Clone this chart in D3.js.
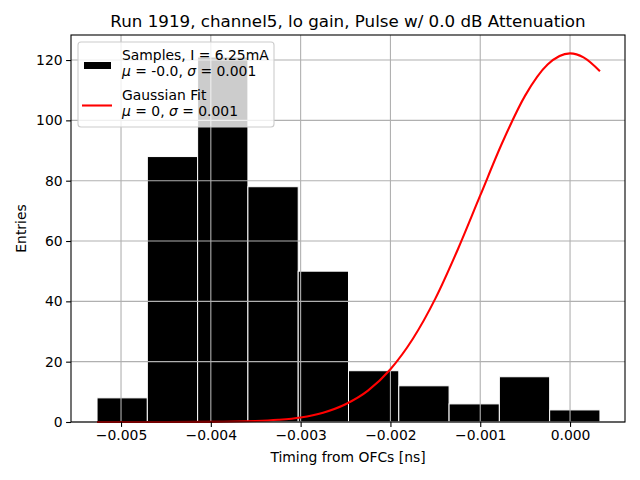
<!DOCTYPE html>
<html>
<head>
<meta charset="utf-8">
<script src="https://cdn.jsdelivr.net/npm/d3@7"></script>
<style>
  body { margin: 0; background: #fff; }
  text { font-family: "DejaVu Sans", sans-serif; }
</style>
</head>
<body>
<div id="chart"></div>
<script>
// histogram bins (left edge, right edge) and counts
const binEdges = [-0.005267, -0.004707, -0.004147, -0.003587, -0.003027, -0.002467,
                  -0.001907, -0.001347, -0.000787, -0.000227, 0.000333];
const counts = [8, 88, 121, 78, 50, 17, 12, 6, 15, 4];

// gaussian fit curve
const fitX = [-0.005267, -0.0045, -0.004, -0.0035, -0.00325, -0.003, -0.00275, -0.0025,
              -0.00225, -0.002, -0.00175, -0.0015, -0.00125, -0.001, -0.00075, -0.0005,
              -0.00025, 0, 0.00015, 0.000333];
const fitY = [0, 0.01, 0.05, 0.32, 0.72, 1.5, 3.1, 5.9, 10.4, 17.5, 27.6, 40.9, 57.2,
              75.1, 92.9, 108.2, 118.5, 122.2, 120.9, 116.3];

const xTicks = [-0.005, -0.004, -0.003, -0.002, -0.001, 0.000];
const yTicks = [0, 20, 40, 60, 80, 100, 120];

const W = 640, H = 480;
const margin = { top: 35, right: 15, bottom: 58, left: 71 };
const width = W - margin.left - margin.right;
const height = H - margin.top - margin.bottom;

const svg = d3.select("#chart").append("svg")
  .attr("width", W).attr("height", H);

const g = svg.append("g").attr("transform", `translate(${margin.left},${margin.top})`);

const x = d3.scaleLinear().domain([-0.005557, 0.000612]).range([0, width]);
const y = d3.scaleLinear().domain([0, 128.3]).range([height, 0]);

const fmtTick = v => (v < 0 ? "\u2212" : "") + Math.abs(v).toFixed(3);

// bars
const bins = counts.map((c, i) => ({ x0: binEdges[i], x1: binEdges[i + 1], c }));
g.selectAll("rect.bar").data(bins).enter().append("rect")
  .attr("class", "bar")
  .attr("x", d => x(d.x0))
  .attr("width", d => x(d.x1) - x(d.x0))
  .attr("y", d => y(d.c))
  .attr("height", d => y(0) - y(d.c))
  .attr("fill", "#000")
  .attr("stroke", "#fff")
  .attr("stroke-width", 1);

// grid (matplotlib draws it above the patches)
g.append("g").selectAll("line").data(xTicks).enter().append("line")
  .attr("x1", d => x(d)).attr("x2", d => x(d))
  .attr("y1", 0).attr("y2", height)
  .attr("stroke", "#b0b0b0").attr("stroke-width", 1.1);
g.append("g").selectAll("line").data(yTicks).enter().append("line")
  .attr("x1", 0).attr("x2", width)
  .attr("y1", d => y(d)).attr("y2", d => y(d))
  .attr("stroke", "#b0b0b0").attr("stroke-width", 1.1);

// fit curve
const fit = fitX.map((v, i) => [v, fitY[i]]);
g.append("path")
  .datum(fit)
  .attr("fill", "none")
  .attr("stroke", "red")
  .attr("stroke-width", 2.08)
  .attr("d", d3.line().x(d => x(d[0])).y(d => y(d[1])).curve(d3.curveMonotoneX));

// axes
const xAxis = g.append("g")
  .attr("transform", `translate(0,${height})`)
  .call(d3.axisBottom(x).tickValues(xTicks).tickFormat(fmtTick).tickSizeOuter(0).tickSize(4.9).tickPadding(3.5));
const yAxis = g.append("g")
  .call(d3.axisLeft(y).tickValues(yTicks).tickSizeOuter(0).tickSize(4.9).tickPadding(3.5));
[xAxis, yAxis].forEach(a => {
  a.selectAll("text").attr("font-size", "13.9px").attr("fill", "#000")
    .attr("font-family", "DejaVu Sans, sans-serif");
  a.selectAll("line").attr("stroke", "#000").attr("stroke-width", 1.1);
  a.select(".domain").remove();
});

// frame
g.append("rect")
  .attr("x", 0).attr("y", 0).attr("width", width).attr("height", height)
  .attr("fill", "none").attr("stroke", "#000").attr("stroke-width", 1.1);

// labels
svg.append("text")
  .attr("x", margin.left + width / 2).attr("y", 27)
  .attr("text-anchor", "middle").attr("font-size", "16.7px")
  .text("Run 1919, channel5, lo gain, Pulse w/ 0.0 dB Attenuation");
svg.append("text")
  .attr("x", margin.left + width / 2).attr("y", 462)
  .attr("text-anchor", "middle").attr("font-size", "13.9px")
  .text("Timing from OFCs [ns]");
svg.append("text")
  .attr("transform", `translate(26,${margin.top + height / 2}) rotate(-90)`)
  .attr("text-anchor", "middle").attr("font-size", "13.9px")
  .text("Entries");

// legend
const leg = svg.append("g");
leg.append("rect")
  .attr("x", 78).attr("y", 42).attr("width", 196).attr("height", 85)
  .attr("rx", 3).attr("fill", "#fff").attr("fill-opacity", 0.8)
  .attr("stroke", "#cccccc").attr("stroke-width", 1.1);
leg.append("rect")
  .attr("x", 84).attr("y", 62).attr("width", 27).attr("height", 7)
  .attr("fill", "#000");
leg.append("line")
  .attr("x1", 82).attr("x2", 112).attr("y1", 105.5).attr("y2", 105.5)
  .attr("stroke", "red").attr("stroke-width", 2.08);

const legendText = [
  { y: 60, parts: [["Samples, I = 6.25mA", false]] },
  { y: 76, parts: [["\u03bc", true], [" = -0.0, ", false], ["\u03c3", true], [" = 0.001", false]] },
  { y: 100, parts: [["Gaussian Fit", false]] },
  { y: 116, parts: [["\u03bc", true], [" = 0, ", false], ["\u03c3", true], [" = 0.001", false]] }
];
legendText.forEach(row => {
  const t = leg.append("text").attr("x", 122).attr("y", row.y).attr("font-size", "13.9px");
  row.parts.forEach(p => {
    t.append("tspan").attr("font-style", p[1] ? "italic" : "normal")
      .style("white-space", "pre").text(p[0]);
  });
});
</script>
</body>
</html>
